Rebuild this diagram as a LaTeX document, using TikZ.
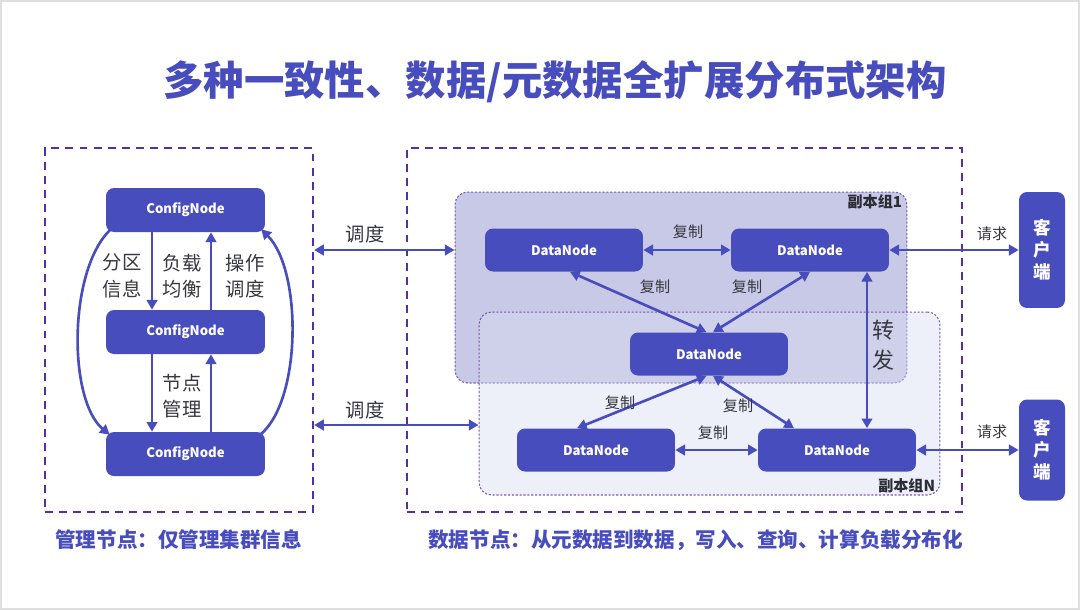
\documentclass[tikz,border=0pt]{standalone}
\usepackage{fontspec}
\setmainfont{Noto Sans CJK SC}
\usetikzlibrary{arrows.meta}
\definecolor{nodeblue}{RGB}{72,77,190}
\definecolor{framepurple}{RGB}{86,46,166}
\definecolor{grpone}{RGB}{200,201,230}
\definecolor{grpn}{RGB}{216,221,243}
\definecolor{labelgray}{RGB}{55,55,65}

\begin{document}
\begin{tikzpicture}
	[
	 x = 0.02cm,
	 y = -0.02cm,
	 box/.style = {draw = none,
	               fill = nodeblue,
	               rounded corners = 1.6mm,
	               text = white,
	               align = center,
	               inner sep = 0pt},
	 cfg/.style = {box, minimum width = 3.18cm, minimum height = 0.88cm,
	               font = \bfseries\fontsize{7.5}{9}\selectfont},
	 dn/.style  = {box, minimum width = 3.16cm, minimum height = 0.86cm,
	               font = \bfseries\fontsize{7.5}{9}\selectfont},
	 kh/.style  = {box, minimum width = 0.92cm, minimum height = 2.32cm,
	               font = \bfseries\fontsize{10}{12.5}\selectfont},
	 dashbox/.style = {draw = framepurple, line width = 1.3pt,
	               dash pattern = on 4.5pt off 3.5pt, inner sep = 0pt},
	 grp/.style = {draw = framepurple!80, line width = 0.6pt,
	               dash pattern = on 1.2pt off 1pt,
	               rounded corners = 2.5mm, inner sep = 0pt},
	 arr/.style = {draw = nodeblue, line width = 1.5pt,
	               -{Triangle[length = 5.5pt, width = 6pt]}},
	 dbl/.style = {draw = nodeblue, line width = 1.5pt,
	               {Triangle[length = 5.5pt, width = 6pt]}-{Triangle[length = 5.5pt, width = 6pt]}},
	 lbl/.style = {text = labelgray, align = center, inner sep = 0pt,
	               font = \fontsize{11}{15}\selectfont},
	 sml/.style = {text = labelgray, inner sep = 0pt,
	               font = \fontsize{8.6}{10}\selectfont},
	 bcap/.style = {text = nodeblue, inner sep = 0pt, anchor = west,
	               font = \bfseries\fontsize{11.7}{14}\selectfont}
	]

	\newcommand{\CN}{ConfigNode}
	\newcommand{\DN}{DataNode}
	\newcommand{\FZ}{复制}

	\fill [white] (0,0) rectangle (1080,610);
	\draw [gray!25, line width = 1pt] (1,1) rectangle (1079,609);
	\useasboundingbox (0,0) rectangle (1080,610);

	\node [text = nodeblue, font = \bfseries\fontsize{23}{28}\selectfont] (T) at (555,82)
		{多种一致性、数据/元数据全扩展分布式架构};

	\node [dashbox, minimum width = 5.36cm, minimum height = 7.28cm] (M) at (179,330) {};
	\node [dashbox, minimum width = 11.1cm, minimum height = 7.28cm] (S) at (684.5,330) {};

	\node [cfg] (C1) at (185.5,210) {\CN};
	\node [cfg] (C2) at (185.5,332) {\CN};
	\node [cfg] (C3) at (185.5,454) {\CN};

	\draw [arr] ([xshift = -0.67cm]C1.south) -- ([xshift = -0.67cm]C2.north);
	\draw [arr] ([xshift = 0.51cm]C2.north) -- ([xshift = 0.51cm]C1.south);
	\draw [arr] ([xshift = -0.67cm]C2.south) -- ([xshift = -0.67cm]C3.north);
	\draw [arr] ([xshift = 0.51cm]C3.north) -- ([xshift = 0.51cm]C2.south);
	\draw [arr] ([xshift = 0.1cm, yshift = 0.06cm]C1.south west)
		.. controls (68,270) and (68,400) .. ([xshift = 0.08cm, yshift = -0.06cm]C3.north west);
	\draw [arr] ([xshift = -0.1cm, yshift = -0.06cm]C3.north east)
		.. controls (302,400) and (302,270) .. ([xshift = -0.08cm, yshift = 0.06cm]C1.south east);

	\node [lbl] (L1) at (122,276) {分区\\信息};
	\node [lbl] (L2) at (182,276) {负载\\均衡};
	\node [lbl] (L3) at (245,276) {操作\\调度};
	\node [lbl] (L4) at (182,396) {节点\\管理};

	\node [grp, fill = grpone, minimum width = 9.04cm, minimum height = 3.82cm] (G1) at (681,287.5) {};
	\node [grp, fill = grpn, fill opacity = 0.44, minimum width = 9.22cm, minimum height = 3.66cm] (GN) at (709.5,403.5) {};
	\node [anchor = north east, inner sep = 0pt, text = labelgray!80!black,
	       font = \bfseries\fontsize{8.6}{10}\selectfont] (G1t) at ([xshift = -0.1cm, yshift = -0.06cm]G1.north east) {副本组1};
	\node [anchor = south east, inner sep = 0pt, text = labelgray!80!black,
	       font = \bfseries\fontsize{8.6}{10}\selectfont] (GNt) at ([xshift = -0.1cm, yshift = 0.04cm]GN.south east) {副本组N};

	\node [dn] (D1) at (564,250) {\DN};
	\node [dn] (D2) at (810,250) {\DN};
	\node [dn] (D3) at (709,354) {\DN};
	\node [dn] (D4) at (596,450) {\DN};
	\node [dn] (D5) at (837,450) {\DN};

	\node [kh] (K1) at (1042,250) {客\\户\\端};
	\node [kh, minimum height = 2.02cm] (K2) at (1042,450) {客\\户\\端};

	\coordinate (s2) at (0,425);
	\draw [dbl] (M.east |- D1) -- (G1.west |- D1);
	\draw [dbl] (M.east |- s2) -- (GN.west |- s2);
	\node [lbl] (q1) at (365,234) {调度};
	\node [lbl] (q2) at (365,410) {调度};

	\draw [dbl] (D1) -- (D2);
	\draw [dbl] ([xshift = 0.12cm]D1.south) -- ([xshift = -0.05cm]D3.north);
	\draw [dbl] (D2.south) -- ([xshift = 0.08cm]D3.north);
	\draw [dbl] ([xshift = -0.05cm]D3.south) -- ([xshift = -0.38cm]D4.north);
	\draw [dbl] ([xshift = 0.08cm]D3.south) -- ([xshift = -0.86cm]D5.north);
	\draw [dbl] (D4) -- (D5);
	\draw [dbl] ([xshift = 1.14cm]D2.south) -- ([xshift = 1.14cm]D2.south |- D5.north);
	\node [lbl, font = \fontsize{12.5}{17}\selectfont] (zf) at (883,345) {转\\发};

	\node [sml] (f1) at (688,232) {\FZ};
	\node [sml] (f2) at (655,287) {\FZ};
	\node [sml] (f3) at (747,287) {\FZ};
	\node [sml] (f4) at (620,403) {\FZ};
	\node [sml] (f5) at (738,406) {\FZ};
	\node [sml] (f6) at (713,433) {\FZ};

	\draw [dbl] (D2.east) -- (K1.west);
	\draw [dbl] (D5.east) -- (K2.west);
	\node [sml] (r1) at (992,234) {请求};
	\node [sml] (r2) at (992,432) {请求};

	\node [bcap] (B1) at (55,540) {管理节点：仅管理集群信息};
	\node [bcap] (B2) at (428,540) {数据节点：从元数据到数据，写入、查询、计算负载分布化};
\end{tikzpicture}
\end{document}
